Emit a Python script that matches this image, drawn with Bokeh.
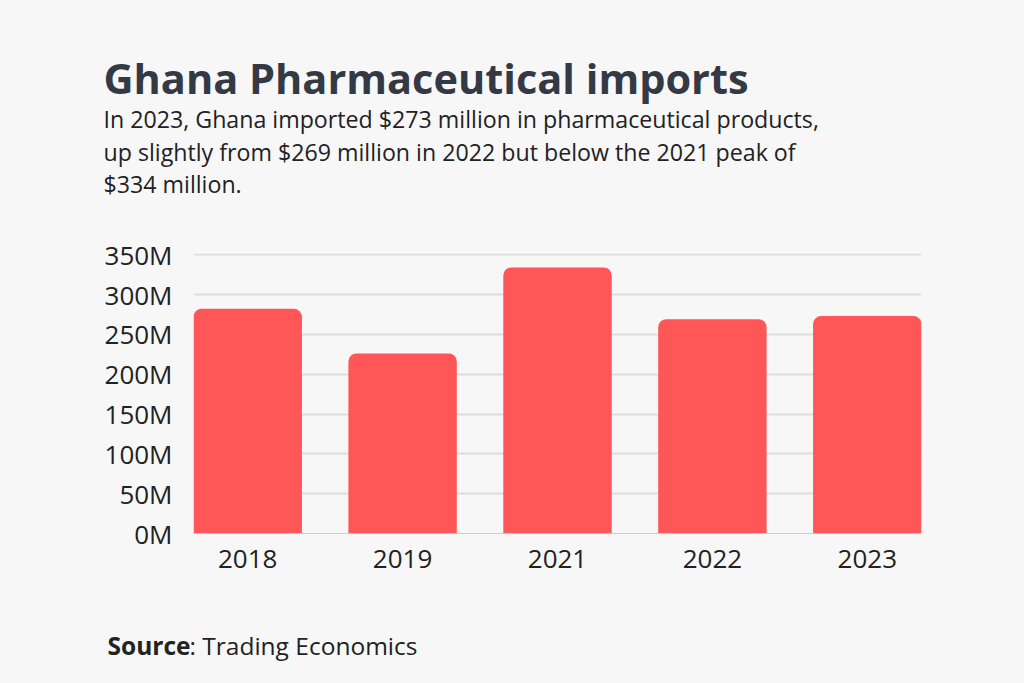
from bokeh.plotting import figure
from bokeh.layouts import column
from bokeh.models import Range1d, FixedTicker, Label, ColumnDataSource
from bokeh.embed import file_html
from bokeh.resources import INLINE

# ---- data ----
years = ["2018", "2019", "2021", "2022", "2023"]
imports_musd = [282, 226, 334, 269, 273]
y_ticks = [0, 50, 100, 150, 200, 250, 300, 350]
y_tick_labels = ["0M", "50M", "100M", "150M", "200M", "250M", "300M", "350M"]

title_text = "Ghana Pharmaceutical imports"
subtitle_lines = [
    "In 2023, Ghana imported $273 million in pharmaceutical products,",
    "up slightly from $269 million in 2022 but below the 2021 peak of",
    "$334 million.",
]
source_bold = "Source"
source_rest = ": Trading Economics"

BG = "#f7f7f7"
BAR = "#ff5757"
TITLE_C = "#333a45"
TEXT_C = "#222222"
FONT = "Open Sans"

W = 1024
HEAD_H, MAIN_H, FOOT_H = 230, 370, 83


def text_panel(h):
    f = figure(width=W, height=h, output_backend="svg", toolbar_location=None,
               x_axis_type=None, y_axis_type=None,
               x_range=Range1d(0, W), y_range=Range1d(0, h),
               background_fill_color=BG, border_fill_color=BG, min_border=0,
               frame_align=False, styles={"background-color": BG})
    f.outline_line_color = None
    return f


def add_text(f, x, y, text, size, bold=False, color=TEXT_C):
    f.add_layout(Label(x=x, y=y, x_units="canvas", y_units="canvas", text=text,
                       text_font=FONT, text_font_style="bold" if bold else "normal",
                       text_font_size=size, text_color=color, text_baseline="alphabetic"))


# ---- header ----
head = text_panel(HEAD_H)
add_text(head, 103, 77, title_text, "41.5px", bold=True, color=TITLE_C)
for line, yb in zip(subtitle_lines, [118.3, 151.5, 183.3]):
    add_text(head, 103, yb, line, "23.2px")

# ---- main chart ----
xs = list(range(len(years)))
src = ColumnDataSource(dict(x=xs, top=imports_musd))

p = figure(width=W, height=MAIN_H, output_backend="svg", toolbar_location=None,
           x_range=Range1d(-0.35, len(years) - 1 + 0.35), y_range=Range1d(0, 351.5),
           background_fill_color=BG, border_fill_color=BG,
           min_border_left=193, min_border_right=103,
           min_border_top=253 - HEAD_H, min_border_bottom=HEAD_H + MAIN_H - 533,
           frame_align=False, styles={"background-color": BG})
p.outline_line_color = None

p.vbar(x="x", top="top", width=0.7, source=src, fill_color=BAR, line_color=None,
       border_radius=(8, 8, 0, 0))

p.xaxis.ticker = FixedTicker(ticks=xs)
p.xaxis.major_label_overrides = {i: y for i, y in enumerate(years)}
p.yaxis.ticker = FixedTicker(ticks=y_ticks)
p.yaxis.major_label_overrides = {t: l for t, l in zip(y_ticks, y_tick_labels)}
for ax in (p.xaxis, p.yaxis):
    ax.major_tick_line_color = None
    ax.minor_tick_line_color = None
    ax.major_label_text_font = FONT
    ax.major_label_text_font_size = "26px"
    ax.major_label_text_color = TEXT_C
p.yaxis.axis_line_color = None
p.yaxis.major_label_standoff = 15
p.xaxis.axis_line_color = "#cccccc"
p.xaxis.major_label_standoff = 10

p.xgrid.grid_line_color = None
p.ygrid.grid_line_color = "#dedede"
p.ygrid.grid_line_width = 2

# ---- footer ----
foot = text_panel(FOOT_H)
add_text(foot, 107, 645 - (HEAD_H + MAIN_H), source_bold, "24.5px", bold=True)
add_text(foot, 189, 645 - (HEAD_H + MAIN_H), source_rest, "24.5px")

layout = column(head, p, foot, spacing=0, styles={"background-color": BG})
open("out.html", "w").write(file_html(layout, INLINE))
